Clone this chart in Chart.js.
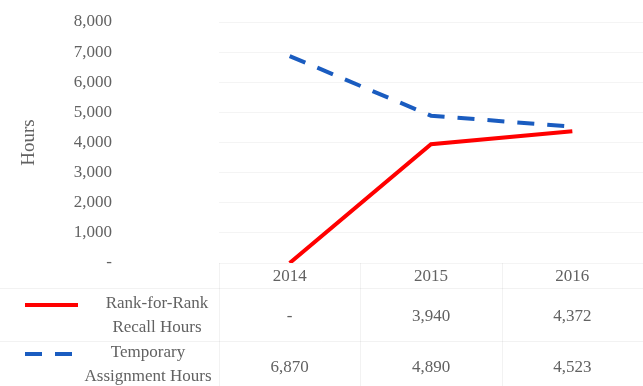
<!DOCTYPE html>
<html>
<head>
<meta charset="utf-8">
<script src="https://cdn.jsdelivr.net/npm/chart.js@4"></script>
<style>
  html, body { margin: 0; padding: 0; background: #fff; }
  #wrap { width: 643px; height: 386px; }
</style>
</head>
<body>
<div id="wrap"><canvas id="hoursChart" width="643" height="386"></canvas></div>
<script>
const years = ['2014', '2015', '2016'];
const rankForRank = [0, 3940, 4372];
const temporary = [6870, 4890, 4523];
const yTicks = [0, 1000, 2000, 3000, 4000, 5000, 6000, 7000, 8000];

const seriesNames = [['Rank-for-Rank', 'Recall Hours'], ['Temporary', 'Assignment Hours']];
const textColor = '#626262';
const fontFamily = "'Liberation Serif', 'Times New Roman', serif";

function fmt(v) {
    return v === 0 ? '-' : v.toLocaleString('en-US');
}

// data table under the plot, columns taken from the x scale
const dataTable = {
    id: 'dataTable',
    afterDraw(chart) {
        const c = chart.ctx;
        const x = chart.scales.x;
        const area = chart.chartArea;
        const top = area.bottom;
        const colW = (x.right - x.left) / years.length;
        const rows = [rankForRank, temporary];

        c.save();
        c.strokeStyle = 'rgba(0,0,0,0.05)';
        c.lineWidth = 1;
        [top + 25, top + 78].forEach(y => {
            c.beginPath();
            c.moveTo(0, y + 0.5);
            c.lineTo(chart.width, y + 0.5);
            c.stroke();
        });
        for (let i = 0; i <= years.length; i++) {
            const vx = Math.round(x.left + i * colW) + 0.5;
            c.beginPath();
            c.moveTo(vx, top);
            c.lineTo(vx, chart.height);
            c.stroke();
        }

        c.font = '17px ' + fontFamily;
        c.fillStyle = textColor;
        c.textAlign = 'center';
        c.textBaseline = 'middle';
        years.forEach((yr, i) => {
            const cx = x.getPixelForValue(i);
            c.fillText(yr, cx, top + 14);
            c.fillText(fmt(rows[0][i]), cx, top + 54);
            c.fillText(fmt(rows[1][i]), cx, top + 105);
        });

        // series keys
        const rowMid = [top + 53, top + 102];
        const textX = [157, 148];
        chart.data.datasets.forEach((ds, r) => {
            c.strokeStyle = ds.borderColor;
            c.lineWidth = 4;
            c.setLineDash(ds.borderDash || []);
            c.beginPath();
            c.moveTo(25, rowMid[r] - 11);
            c.lineTo(r === 0 ? 78 : 73, rowMid[r] - 11);
            c.stroke();
            c.setLineDash([]);
            c.fillStyle = textColor;
            c.fillText(seriesNames[r][0], textX[r], rowMid[r] - 12);
            c.fillText(seriesNames[r][1], textX[r], rowMid[r] + 12);
        });
        c.restore();
    }
};

const ctx = document.getElementById('hoursChart').getContext('2d');

new Chart(ctx, {
    type: 'line',
    data: {
        labels: years,
        datasets: [{
            label: 'Rank-for-Rank Recall Hours',
            data: rankForRank,
            borderColor: '#ff0000',
            borderWidth: 4,
            pointRadius: 0,
            tension: 0
        }, {
            label: 'Temporary Assignment Hours',
            data: temporary,
            borderColor: '#1a5cc0',
            borderWidth: 4,
            borderDash: [17, 13],
            pointRadius: 0,
            tension: 0
        }]
    },
    options: {
        responsive: false,
        animation: false,
        layout: { padding: { top: 22, right: 0, bottom: 123, left: 0 } },
        plugins: {
            legend: { display: false },
            tooltip: { enabled: false }
        },
        scales: {
            x: {
                display: false,
                offset: true
            },
            y: {
                min: 0,
                max: 8000,
                afterFit: scale => {
                    scale.width = 219;
                    scale.paddingTop = 0;
                    scale.paddingBottom = 0;
                },
                afterBuildTicks: scale => { scale.ticks = yTicks.map(v => ({ value: v })); },
                border: { display: false },
                grid: { color: 'rgba(0,0,0,0.045)', drawTicks: false },
                ticks: {
                    padding: 107,
                    color: textColor,
                    font: { family: fontFamily, size: 17 },
                    callback: v => fmt(v)
                },
                title: {
                    display: true,
                    text: 'Hours',
                    color: textColor,
                    font: { family: fontFamily, size: 19 },
                    padding: { top: 18, bottom: 0 }
                }
            }
        }
    },
    plugins: [dataTable]
});
</script>
</body>
</html>
